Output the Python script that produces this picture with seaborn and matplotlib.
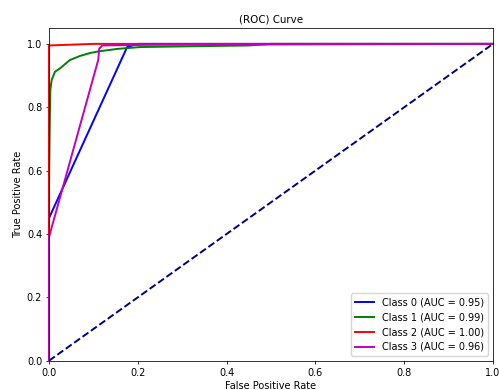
import matplotlib
matplotlib.use("Agg")
import matplotlib.pyplot as plt
import seaborn as sns
import pandas as pd

# ROC curve points
fpr0 = [0.0, 0.0, 0.176, 0.20, 1.0]
tpr0 = [0.0, 0.45, 0.99, 1.0, 1.0]

fpr1 = [0.0, 0.0, 0.002, 0.003, 0.006, 0.0135, 0.025, 0.047, 0.07, 0.092, 0.11,
        0.153, 0.205, 0.30, 0.45, 0.50, 1.0]
tpr1 = [0.0, 0.55, 0.78, 0.855, 0.886, 0.912, 0.923, 0.949, 0.962, 0.971, 0.976,
        0.984, 0.99, 0.992, 0.995, 1.0, 1.0]

fpr2 = [0.0, 0.0, 0.10, 1.0]
tpr2 = [0.0, 0.995, 1.0, 1.0]

fpr3 = [0.0, 0.0, 0.111, 0.113, 0.12, 0.22, 1.0]
tpr3 = [0.0, 0.39, 0.95, 0.985, 0.995, 0.997, 1.0]

labels = ["Class 0 (AUC = 0.95)", "Class 1 (AUC = 0.99)",
          "Class 2 (AUC = 1.00)", "Class 3 (AUC = 0.96)"]
colors = ["blue", "green", "red", "m"]
diag_x = [0.0, 1.0]
diag_y = [0.0, 1.0]

s = 0.7
plt.rcParams.update({
    "font.size": 10 * s,
    "axes.linewidth": 0.8 * s,
    "xtick.major.size": 3.5 * s,
    "ytick.major.size": 3.5 * s,
    "xtick.major.width": 0.8 * s,
    "ytick.major.width": 0.8 * s,
    "xtick.major.pad": 3.5 * s,
    "ytick.major.pad": 3.5 * s,
    "axes.labelpad": 4.0 * s,
    "axes.titlepad": 6.0 * s,
    "axes.titlesize": 10.5 * s,
    "legend.fontsize": 10 * s,
})

fig = plt.figure(figsize=(4.99, 3.90), dpi=100)
ax = fig.add_axes([0.0982, 0.0751, 0.8898, 0.853])

curves = [(fpr0, tpr0), (fpr1, tpr1), (fpr2, tpr2), (fpr3, tpr3)]
for (fx, ty), lab, col in zip(curves, labels, colors):
    df = pd.DataFrame({"fpr": fx, "tpr": ty})
    sns.lineplot(data=df, x="fpr", y="tpr", sort=False, estimator=None,
                 color=col, lw=2 * s, label=lab, ax=ax, clip_on=False)

sns.lineplot(x=diag_x, y=diag_y, color="navy", lw=2 * s, linestyle="--", ax=ax)

ax.set_xlim(0.0, 1.0)
ax.set_ylim(0.0, 1.05)
ax.set_xticks([0.0, 0.2, 0.4, 0.6, 0.8, 1.0])
ax.set_yticks([0.0, 0.2, 0.4, 0.6, 0.8, 1.0])
ax.set_xlabel("False Positive Rate")
ax.set_ylabel("True Positive Rate")
ax.set_title("(ROC) Curve")
ax.legend(loc="lower right")

fig.savefig("out.png", dpi=100)
